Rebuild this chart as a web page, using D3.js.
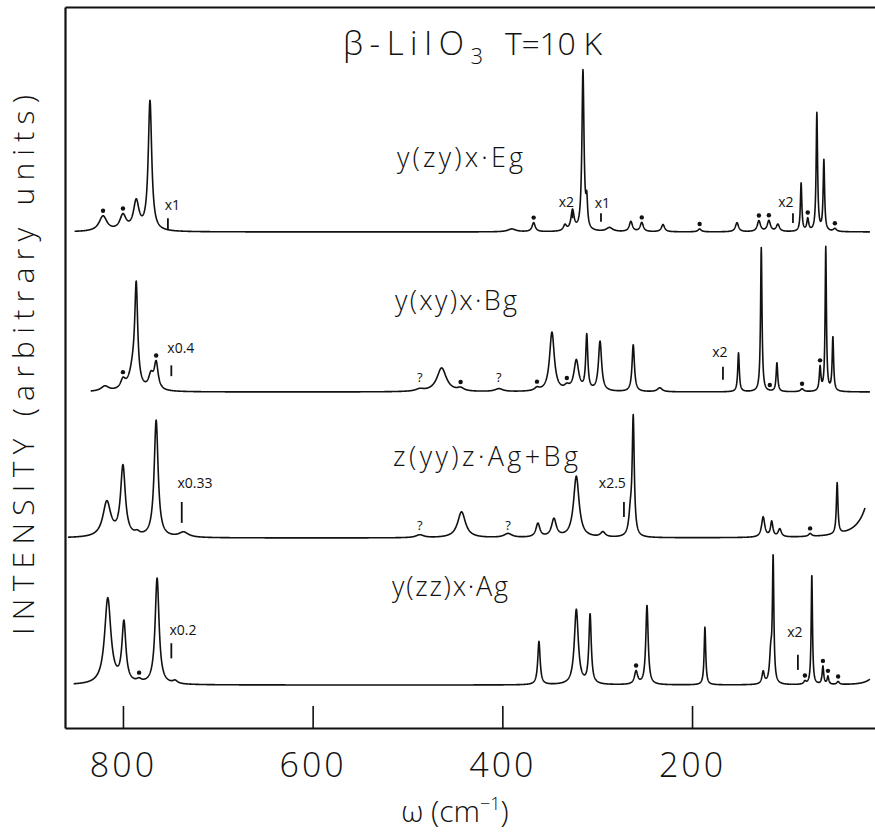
<!DOCTYPE html>
<html>
<head>
<meta charset="utf-8">
<script src="https://cdn.jsdelivr.net/npm/d3@7"></script>
<style>
  body { margin: 0; background: #fff; }
  svg { display: block; }
  text { font-family: "Open Sans", "DejaVu Sans", sans-serif; fill: #111; }
</style>
</head>
<body>
<svg id="chart" width="875" height="836"></svg>
<script>
// --- DATA ---
const xTicks = [800, 600, 400, 200];
const traceNames = ["y(zy)x\u00b7Eg", "y(xy)x\u00b7Bg", "z(yy)z\u00b7Ag+Bg", "y(zz)x\u00b7Ag"];
// vertical offset of each trace (arbitrary intensity units, axis 0..100)
const traceOffsets = [68.8, 46.6, 26.35, 5.96];
// recorded range of each trace, cm^-1 (start, end)
const traceRanges = [[851, 12.5], [834, 12.5], [858, 17.7], [852, 12.5]];

// peaks: [position cm^-1, height, half width cm^-1]
const peaksEg = [
  [821, 2.1, 5], [800, 2.1, 4], [786, 4.0, 3.5], [771.5, 18.0, 2.2],
  [390, 0.4, 5], [367, 1.25, 2], [334, 0.8, 2], [326, 2.8, 2],
  [315, 22.2, 1.3], [311, 3.5, 1], [287, 0.55, 4], [264.5, 1.4, 2],
  [253, 1.25, 2], [230.6, 1.0, 2], [192, 0.4, 2], [152.6, 1.25, 2],
  [129.5, 1.5, 2], [119, 1.5, 2], [109.5, 1.0, 2], [85, 6.7, 0.9],
  [78, 1.7, 1.2], [68.4, 16.4, 0.9], [61, 9.8, 0.9], [49.4, 0.4, 2]
];
const peaksBg = [
  [819, 0.7, 5], [800, 1.25, 3], [789, 3.0, 5], [786, 13.0, 1.8],
  [770.5, 1.9, 3], [765, 3.7, 2.5], [487, 0.3, 5], [464, 3.3, 6],
  [444, 0.4, 4], [403.6, 0.4, 5], [363.5, 0.4, 3], [347.7, 8.2, 3],
  [332, 0.55, 3], [322, 4.2, 3], [311, 7.6, 1.3], [297, 6.9, 2],
  [262, 6.5, 1.5], [234, 0.55, 3], [151, 5.4, 1], [127, 20.0, 0.9],
  [110.5, 4.0, 1], [84, 0.4, 2], [65, 3.3, 1], [59, 20.0, 0.8],
  [51.5, 7.5, 0.9]
];
const peaksAgBg = [
  [817, 4.85, 5], [800, 9.7, 3], [785, 0.4, 3], [765, 16.2, 2.5],
  [736, 0.7, 6], [487, 0.4, 5], [443, 3.6, 5], [394, 0.55, 5],
  [362.5, 1.9, 2.5], [345.6, 2.5, 3], [322, 8.5, 3.5], [294, 0.7, 3],
  [265, 2.8, 2], [262, 16.2, 1.3], [125, 2.8, 2], [116, 2.1, 1.5],
  [107.5, 1.1, 2], [75.5, 0.4, 2], [47, 7.1, 1], [5, 10.8, 10]
];
const peaksAg = [
  [816, 11.9, 4], [799, 8.3, 2.5], [783, 0.4, 3], [764, 14.7, 2.5],
  [745, 0.4, 3], [361.4, 6.0, 1.5], [322, 10.4, 2.5], [307.5, 9.6, 1.5],
  [259, 1.8, 2], [247.5, 11.0, 1.5], [186.4, 8.0, 1], [125, 1.7, 1.5],
  [117, 4.0, 1.5], [114.5, 17.1, 0.9], [81, 0.4, 1.5], [73.7, 15.3, 0.8],
  [62, 2.5, 1], [56.7, 1.1, 1], [46, 0.4, 1.5], [5, 1.5, 8]
];

// peaks flagged with a dot
const dotsEg = [821, 800, 367, 253, 192, 129.5, 119, 78, 49.4];
const dotsBg = [800, 765, 444, 363.5, 332, 118, 84, 65];
const dotsAgBg = [75.5];
const dotsAg = [783, 259, 81, 62, 56.7, 46];

// gain change markers: [position, bottom, top, label, label position, label height]
const markersEg = [[752.6, 0.3, 1.9, "x1", 747.8, 3.0], [326, 1.9, 2.8, "x2", 332.5, 3.5],
                   [296, 1.4, 2.6, "x1", 294.5, 3.3], [93.6, 1.25, 2.6, "x2", 101, 3.5]];
const markersBg = [[749, 2.2, 3.7, "x0.4", 739, 5.4], [167.4, 1.7, 3.5, "x2", 170.6, 4.9]];
const markersAgBg = [[738, 2.1, 5.0, "x0.33", 724, 6.9], [271.8, 2.9, 5.0, "x2.5", 284, 6.9]];
const markersAg = [[749, 3.7, 5.8, "x0.2", 736.7, 6.9], [88.4, 2.1, 4.2, "x2", 91.5, 6.7]];

// uncertain features: [position, height]
const queriesBg = [[487, 1.4], [403.6, 1.4]];
const queriesAgBg = [[487, 1.1], [394, 1.1]];

// --- SETUP ---
const plotLeft = 65, plotRight = 875, plotTop = 7, plotBottom = 728;
const svg = d3.select("#chart");
const x = d3.scaleLinear().domain([861.1, 7.1]).range([plotLeft, plotRight]);
const y = d3.scaleLinear().domain([0, 100]).range([plotBottom, plotTop]);

const traces = [
  { peaks: peaksEg, dots: dotsEg, markers: markersEg, queries: [] },
  { peaks: peaksBg, dots: dotsBg, markers: markersBg, queries: queriesBg },
  { peaks: peaksAgBg, dots: dotsAgBg, markers: markersAgBg, queries: queriesAgBg },
  { peaks: peaksAg, dots: dotsAg, markers: markersAg, queries: [] }
];
const labelLayout = [
  { x: 397, y: 167, w: 126 },
  { x: 395, y: 310, w: 122 },
  { x: 393, y: 466, w: 185 },
  { x: 392, y: 596, w: 116 }
];

function intensity(peaks, w) {
  return d3.sum(peaks, p => p[1] / (1 + ((w - p[0]) / p[2]) ** 2));
}

// --- AXES ---
const xAxis = d3.axisBottom(x).tickValues(xTicks).tickSize(-22).tickSizeOuter(0)
  .tickPadding(25).tickFormat(d3.format("d"));
const gx = svg.append("g").attr("transform", `translate(0,${plotBottom})`).call(xAxis);
gx.select(".domain").attr("stroke-width", 2.2).attr("stroke", "#111");
gx.selectAll(".tick line").attr("stroke-width", 1.6).attr("stroke", "#111");
gx.selectAll(".tick text").attr("font-size", 34).attr("font-weight", 300)
  .attr("font-family", "'Open Sans', 'DejaVu Sans', sans-serif")
  .attr("letter-spacing", 3).attr("fill", "#111");

const gy = svg.append("g").attr("transform", `translate(${plotLeft},0)`)
  .call(d3.axisLeft(y).tickValues([]).tickSizeOuter(0));
gy.select(".domain").attr("stroke-width", 2.2).attr("stroke", "#111");

const gt = svg.append("g").attr("transform", `translate(0,${plotTop})`)
  .call(d3.axisTop(x).tickValues([]).tickSizeOuter(0));
gt.select(".domain").attr("stroke-width", 1.8).attr("stroke", "#111");

// --- TRACES ---
const line = d3.line().x(d => x(d[0])).y(d => y(d[1]));

traces.forEach((t, i) => {
  const off = traceOffsets[i];
  const [w0, w1] = traceRanges[i];
  const pts = d3.range(w0, w1, -0.2).map(w => [w, off + intensity(t.peaks, w)]);
  pts.push([w1, off + intensity(t.peaks, w1)]);

  svg.append("path").datum(pts)
    .attr("d", line)
    .attr("fill", "none")
    .attr("stroke", "#111")
    .attr("stroke-width", 1.6)
    .attr("stroke-linejoin", "round");

  svg.selectAll(null).data(t.dots).enter().append("circle")
    .attr("cx", w => x(w))
    .attr("cy", w => y(off + intensity(t.peaks, w)) - 5)
    .attr("r", 2.2)
    .attr("fill", "#111");

  t.markers.forEach(m => {
    svg.append("line")
      .attr("x1", x(m[0])).attr("x2", x(m[0]))
      .attr("y1", y(off + m[1])).attr("y2", y(off + m[2]))
      .attr("stroke", "#111").attr("stroke-width", 1.8);
    svg.append("text")
      .attr("x", x(m[4])).attr("y", y(off + m[5]))
      .attr("text-anchor", "middle")
      .attr("font-size", 14)
      .text(m[3]);
  });

  svg.selectAll(null).data(t.queries).enter().append("text")
    .attr("x", q => x(q[0])).attr("y", q => y(off + q[1]))
    .attr("text-anchor", "middle")
    .attr("font-size", 13)
    .text("?");

  const L = labelLayout[i];
  svg.append("text")
    .attr("x", L.x).attr("y", L.y)
    .attr("font-size", 27).attr("font-weight", 300)
    .attr("textLength", L.w).attr("lengthAdjust", "spacing")
    .text(traceNames[i]);
});

// --- TITLES ---
const title = svg.append("text")
  .attr("x", 343).attr("y", 55)
  .attr("font-size", 33).attr("font-weight", 300)
  .attr("textLength", 140).attr("lengthAdjust", "spacing");
title.append("tspan").text("\u03b2-LiIO");
title.append("tspan").attr("dy", 9).attr("font-size", 22).text("3");
svg.append("text")
  .attr("x", 505).attr("y", 55)
  .attr("font-size", 32).attr("font-weight", 300)
  .attr("textLength", 97).attr("lengthAdjust", "spacing")
  .text("T=10 K");

svg.append("text")
  .attr("transform", "translate(34,365) rotate(-90)")
  .attr("text-anchor", "middle")
  .attr("font-size", 30).attr("font-weight", 300)
  .attr("textLength", 540).attr("lengthAdjust", "spacing")
  .text("INTENSITY (arbitrary units)");

const xTitle = svg.append("text")
  .attr("x", 455).attr("y", 822)
  .attr("text-anchor", "middle")
  .attr("font-size", 30).attr("font-weight", 300);
xTitle.append("tspan").text("\u03c9 (cm");
xTitle.append("tspan").attr("dy", -12).attr("font-size", 18).text("\u22121");
xTitle.append("tspan").attr("dy", 12).text(")");
</script>
</body>
</html>
